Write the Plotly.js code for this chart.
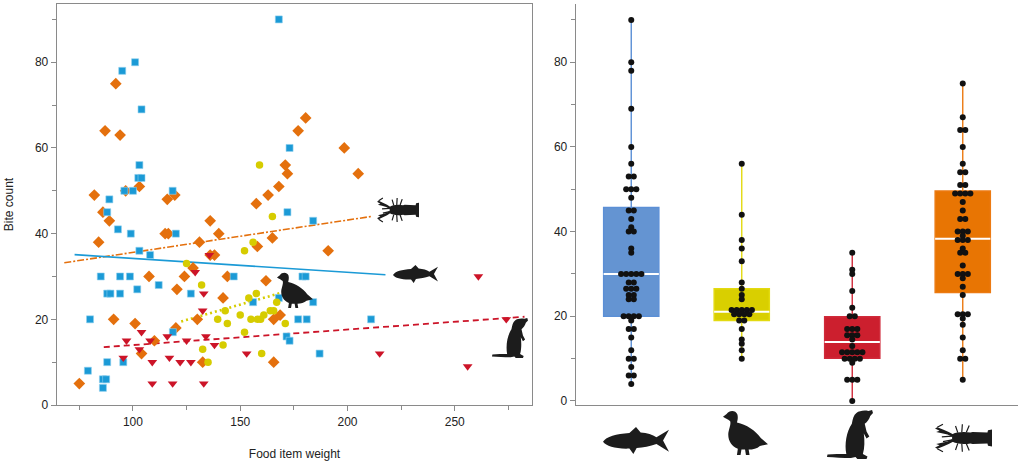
<!DOCTYPE html>
<html>
<head>
<meta charset="utf-8">
<script src="https://cdn.plot.ly/plotly-3.0.1.min.js"></script>
<style>html,body{margin:0;padding:0;background:#fff;}#chart{width:1021px;height:466px;}</style>
</head>
<body>
<div id="chart"></div>
<script>
// ---------- Left panel: food item weight vs bite count ----------
const fishWeight = [168,101,95,104,173,103,102.5,104,96,100,118.5,89,88,172,184,93,99,120,103,108,85,94,98.6,147,179,180.5,102,112,88,89.5,94,127,156,168,184,80,177,181,211,118.6,171.6,173,187,95.5,88,79,86,87.5,86];
const fishBites  = [90,80,78,69,60,56,53,53,50,50,50,48,45,45,43,41,40,40,36,35,30,30,30,30,30,30,27,28,26,26,26,26,24,25,24,20,20,20,20,17,16,15,12,10,10,8,6,6,4];

const crayWeight = [92,87,94,177,171,172,168,163,157.5,82,96.6,103,116,119.5,86,180.5,198.5,205,191,168.6,84,89,136,140,115,116.5,131,165,158,136,138,128,107.5,124,144,120.5,162,142,91,101,120,130,165.6,110,104,132.5,165.6,75];
const crayBites  = [75,64,63,64,56,54,51,49,47,49,50,51,48,49,45,67,60,54,36,21,38,43,43,40,40,40,38,39,37,35,35,32,30,30,30,27,29,25,20,19,18,20,20,15,12,10,10,5];

const quailWeight = [159,165,156,152,125,132,157.5,154,167,143,150,164,165.6,161,155,158,159.5,139.5,144,171,152,132.5,142,160,135];
const quailBites  = [56,44,38,36,33,28,26,25,24,22,21,22,22,21,20,20,20,20,19,19,17,13,14,12,10];

const ratWeight = [135.6,129,133,132.5,104,97,108,116,125,134,138,103,95.5,117,109,122,127,153,109,118.5,133,261,274,215,256];
const ratBites  = [35,31,26,22,17,15,15,16,15,16,14,13,11,11,10,10,10,12,5,5,5,30,20,12,9];

// trend lines (end points)
const crayFitX = [68, 211],     crayFitY = [33.2, 44];
const fishFitX = [72.8, 217.7], fishFitY = [35.1, 30.4];
const quailFitX = [122.5, 172], quailFitY = [19.5, 26.6];
const ratFitX = [86.4, 282.5],  ratFitY = [13.5, 20.6];

// ---------- Right panel: box plots ----------
const groups     = ["fish", "quail", "rat", "crayfish"];
const boxQ1      = [20, 19, 10.1, 25.6];
const boxMedian  = [30, 21.1, 13.9, 38.3];
const boxQ3      = [45.7, 26.5, 19.9, 49.6];
const boxMin     = [4, 10, 0, 5];
const boxMax     = [90, 56, 35, 75];

const swarmFish  = [90,80,78,69,60,56,53,53,50,50,50,48,45,45,43,41,40,40,36,35,30,30,30,30,30,28,28,26.5,26.5,26.5,25,25,24,24,20,20,20,20,19,17,17,15,12,10,10,8,6,6,4];
const swarmQuail = [56,44,38,36,33,28,26.5,25,24,21.5,21.5,21.5,21.5,21.5,20.5,20.5,20.5,20.5,19,19,17,14.5,13.5,12,10];
const swarmRat   = [35,31,30,26,22,20,20,17,17,17,15.5,15.5,15.5,14.5,13,11.5,11.5,11.5,11.5,11.5,10,10,10,10,9,5,5,5,0];
const swarmCray  = [75,67,64,64,60,56,54,54,51,51,49,49,49,49,47,45,43,43,40,40,40,39,38,38,38,36,35,35,32,30,30,30,29,27,25,20.5,20.5,20.5,19.5,18,15,12,10,10,5];

// ---------- styles ----------
const C_FISH = '#1b9ad6', C_CRAY = '#e4700d', C_QUAIL = '#d6cc00', C_RAT = '#cc1428';
const BOX_FILL = ['#6494d2', '#d9cf00', '#cc1f2e', '#e87503'];
const BOX_LINE = ['#5b8fd6', '#e3da10', '#d02a3a', '#ec7a12'];
const FONT = 'Liberation Sans, Arial, sans-serif';
const AX = '#8a8a8a';
const W = 1021, H = 466;
const PX = x => x / W, PY = y => 1 - y / H;

const traces = [];
traces.push({x: crayFitX, y: crayFitY, mode: 'lines', line: {color: C_CRAY, width: 1.6, dash: '7px,2px,2px,2px'}, xaxis: 'x', yaxis: 'y'});
traces.push({x: fishFitX, y: fishFitY, mode: 'lines', line: {color: C_FISH, width: 1.6}, xaxis: 'x', yaxis: 'y'});
traces.push({x: ratFitX, y: ratFitY, mode: 'lines', line: {color: C_RAT, width: 1.8, dash: '6px,4px'}, xaxis: 'x', yaxis: 'y'});
traces.push({x: quailFitX, y: quailFitY, mode: 'lines', line: {color: C_QUAIL, width: 2.6, dash: '2px,3px'}, xaxis: 'x', yaxis: 'y'});

traces.push({x: crayWeight, y: crayBites, mode: 'markers', marker: {symbol: 'diamond', size: 9, color: C_CRAY, line: {width: 0}}, xaxis: 'x', yaxis: 'y'});
traces.push({x: fishWeight, y: fishBites, mode: 'markers', marker: {symbol: 'square', size: 7, color: C_FISH, line: {width: 0.6, color: '#8fd0ef'}}, xaxis: 'x', yaxis: 'y'});
traces.push({x: quailWeight, y: quailBites, mode: 'markers', marker: {symbol: 'circle', size: 7.5, color: C_QUAIL, line: {width: 0}}, xaxis: 'x', yaxis: 'y'});
traces.push({x: ratWeight, y: ratBites, mode: 'markers', marker: {symbol: 'triangle-down', size: 8.5, color: C_RAT, line: {width: 0}}, xaxis: 'x', yaxis: 'y'});

groups.forEach((g, i) => {
  traces.push({
    type: 'box', name: g, x: [i], q1: [boxQ1[i]], median: [boxMedian[i]], q3: [boxQ3[i]],
    lowerfence: [boxMin[i]], upperfence: [boxMax[i]],
    width: 0.5, whiskerwidth: 0, boxpoints: false,
    fillcolor: BOX_FILL[i], line: {color: BOX_LINE[i], width: 1.4},
    xaxis: 'x2', yaxis: 'y2'
  });
});
const medX = [], medY = [];
boxMedian.forEach((m, i) => { medX.push(i - 0.25, i + 0.25, null); medY.push(m, m, null); });
traces.push({x: medX, y: medY, mode: 'lines', line: {color: '#ffffff', width: 2}, xaxis: 'x2', yaxis: 'y2'});

function swarm(values, center, step) {
  const counts = {}, seen = {};
  values.forEach(v => counts[v] = (counts[v] || 0) + 1);
  return values.map(v => {
    const k = seen[v] || 0; seen[v] = k + 1;
    return center + (k - (counts[v] - 1) / 2) * step;
  });
}
const swarms = [swarmFish, swarmQuail, swarmRat, swarmCray];
const sx = [], sy = [];
swarms.forEach((vals, i) => { swarm(vals, i, 0.046).forEach(x => sx.push(x)); vals.forEach(v => sy.push(v)); });
traces.push({x: sx, y: sy, mode: 'markers', marker: {size: 6, color: '#111111'}, xaxis: 'x2', yaxis: 'y2', cliponaxis: false});

// ---------- silhouettes (local coords 0..100, mapped into pixel boxes) ----------
const SIL = {
  fish: ['M0,55 C5,35 20,25 40,22 L50,0 L57,20 C67,22 75,28 81,38 L100,10 L91,50 L100,92 L81,63 C71,72 61,76 51,78 L46,100 L40,80 C20,82 5,72 0,55 Z'],
  quail: ['M0,15 L8,9 C14,0 28,0 32,10 C34,18 32,24 31,28 C52,32 72,46 84,62 L100,76 L82,80 C76,86 66,88 57,88 L59,100 L51,100 L49,88 L41,88 L39,100 L31,100 L33,86 C18,80 10,66 12,50 C14,40 18,32 16,25 C12,21 6,19 0,15 Z'],
  rat: ['M64,6 C70,2 80,0 90,2 L98,0 L100,6 L94,12 C92,18 88,24 82,28 L86,44 L92,54 L86,58 L80,48 C82,62 82,78 78,90 L88,95 L86,100 L66,100 L62,96 L52,98 C36,98 16,97 0,96 L1,91 C14,90 30,90 42,90 C38,70 42,44 54,28 C56,18 58,10 64,6 Z'],
  cray: ['M30,38 C36,30 52,28 62,32 L66,30 L92,32 L93,24 L100,22 L100,78 L93,76 L92,68 L66,70 L62,68 C52,72 36,70 30,62 Z',
         'M34,40 L24,30 L14,22 L4,14 L0,18 L8,26 L2,30 L12,34 L22,38 L30,46 Z',
         'M34,60 L24,70 L14,78 L4,86 L0,82 L8,74 L2,70 L12,66 L22,62 L30,54 Z']
};
const SIL_LEGS = {
  cray: 'M40,32 L36,10 M47,31 L48,4 M55,31 L60,8 M40,68 L36,90 M47,69 L48,96 M55,69 L60,92 M4,14 L14,4 M4,86 L14,96 M30,44 L12,46 M30,56 L14,62'
};
function mapPath(p, x0, y0, x1, y1) {
  return p.replace(/(-?\d+\.?\d*),(-?\d+\.?\d*)/g, (m, u, v) => {
    const px = x0 + (+u) / 100 * (x1 - x0), py = y0 + (+v) / 100 * (y1 - y0);
    return PX(px).toFixed(5) + ',' + PY(py).toFixed(5);
  });
}
const shapes = [];
function addSil(name, x0, y0, x1, y1) {
  SIL[name].forEach(p => shapes.push({type: 'path', xref: 'paper', yref: 'paper', path: mapPath(p, x0, y0, x1, y1),
    fillcolor: '#1c1c1c', line: {width: 0}, layer: 'above'}));
  if (SIL_LEGS[name]) shapes.push({type: 'path', xref: 'paper', yref: 'paper', path: mapPath(SIL_LEGS[name], x0, y0, x1, y1),
    line: {color: '#1c1c1c', width: 1.2}, layer: 'above'});
}
addSil('cray', 377, 197, 419, 223);
addSil('fish', 393, 265, 438, 283);
addSil('quail', 277, 272, 313, 308);
addSil('rat', 492, 318, 528, 358);
addSil('fish', 603, 427, 669, 454);
addSil('quail', 723, 410, 768, 455);
addSil('rat', 827, 410, 873, 459);
addSil('cray', 935, 423, 992, 453);

const tickFont = {family: FONT, size: 12, color: '#222'};
const layout = {
  width: W, height: H,
  margin: {l: 0, r: 0, t: 0, b: 0},
  paper_bgcolor: '#fff', plot_bgcolor: '#fff',
  showlegend: false, hovermode: false,
  boxmode: 'overlay',
  font: {family: FONT, size: 12, color: '#222'},
  xaxis: {
    domain: [PX(57), PX(532)], range: [64.6, 286], anchor: 'y',
    dtick: 50, tick0: 0, ticks: 'outside', ticklen: 5, tickwidth: 1, tickcolor: AX,
    minor: {dtick: 25, tick0: 0, ticks: 'outside', ticklen: 4, tickcolor: AX},
    showline: true, linecolor: AX, linewidth: 1.3, mirror: true,
    showgrid: false, zeroline: false, tickfont: tickFont,
    title: {text: 'Food item weight', font: {family: FONT, size: 12, color: '#222'}, standoff: 22}
  },
  yaxis: {
    domain: [PY(405), PY(4)], range: [0, 93.6], anchor: 'x',
    dtick: 20, tick0: 0, ticks: 'outside', ticklen: 5, tickwidth: 1, tickcolor: AX,
    minor: {dtick: 10, tick0: 0, ticks: 'outside', ticklen: 4, tickcolor: AX},
    showline: true, linecolor: AX, linewidth: 1.3, mirror: true,
    showgrid: false, zeroline: false, tickfont: tickFont,
    title: {text: 'Bite count', font: {family: FONT, size: 12, color: '#222'}, standoff: 18}
  },
  xaxis2: {
    domain: [PX(576), PX(1018)], range: [-0.5, 3.5], anchor: 'y2',
    showticklabels: false, ticks: '', showline: true, linecolor: AX, linewidth: 1.3,
    showgrid: false, zeroline: false
  },
  yaxis2: {
    domain: [PY(405), PY(4)], range: [-0.95, 93.75], anchor: 'x2',
    dtick: 20, tick0: 0, ticks: 'outside', ticklen: 5, tickwidth: 1, tickcolor: AX,
    minor: {dtick: 10, tick0: 0, ticks: 'outside', ticklen: 4, tickcolor: AX},
    showline: true, linecolor: AX, linewidth: 1.3,
    showgrid: false, zeroline: false, tickfont: tickFont
  },
  shapes: shapes
};
Plotly.newPlot('chart', traces, layout, {staticPlot: true, displayModeBar: false});
</script>
</body>
</html>
